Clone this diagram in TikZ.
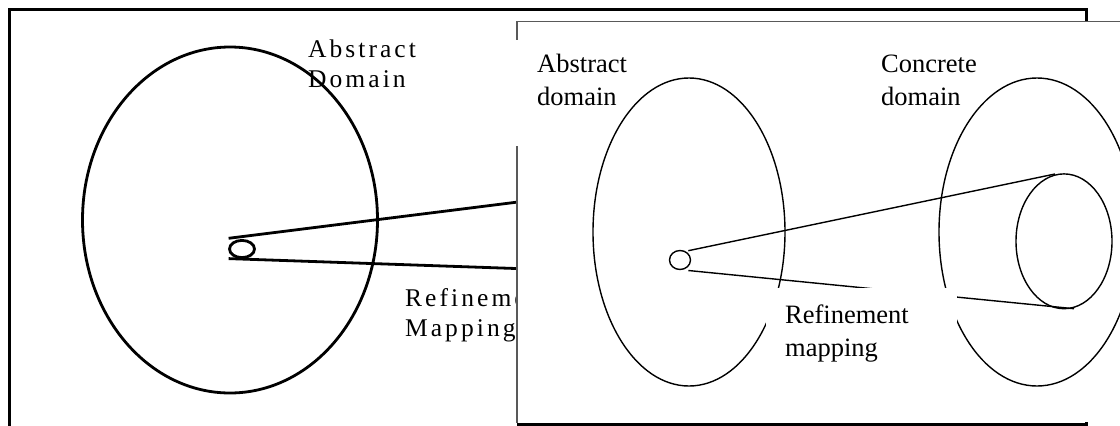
\documentclass[tikz,border=0pt]{standalone}
\usepackage{fontspec}
\setmainfont{Liberation Serif}
\newfontfamily\spacedfont[LetterSpace=12]{Liberation Serif}
\begin{document}
\begin{tikzpicture}[x=1pt,y=-1pt,
  backline/.style={line width=2.8pt,black},
  frontline/.style={line width=1.4pt,black},
  border/.style={line width=1.2pt,black!65},
  whitebox/.style={fill=white,draw=none},
  backtext/.style={anchor=base west,inner sep=0pt,font=\spacedfont\fontsize{25.5}{30}\selectfont},
  fronttext/.style={anchor=base west,inner sep=0pt,font=\fontsize{26.5}{33}\selectfont}]
\useasboundingbox (0,0) rectangle (1120,426);
\clip (0,0) rectangle (1120,426);
% ---------- back picture ----------
\coordinate (bf1) at (9.5,440);
\coordinate (bf2) at (9.5,9.7);
\coordinate (bf3) at (1086.5,9.7);
\coordinate (bf4) at (1086.5,440);
\draw[backline] (bf1) -- (bf2) -- (bf3) -- (bf4);
\draw[backline] (230,220) ellipse [x radius=147.5, y radius=173];
\draw[backline] (242,249) ellipse [x radius=12.5, y radius=8.6];
\coordinate (bu1) at (228.6,238.3);
\coordinate (bu2) at (530,200.5);
\coordinate (bl1) at (228.6,258.6);
\coordinate (bl2) at (530,269);
\draw[backline] (bu1) -- (bu2);
\draw[backline] (bl1) -- (bl2);
\node[backtext] (bt1) at (308,57) {A\kern3pt bstract};
\node[backtext] (bt2) at (308,87.5) {Domain};
\node[backtext] (bt3) at (405,306) {Refinement};
\node[backtext] (bt4) at (405,336) {M\kern3pt apping};
% ---------- front picture ----------
\fill[white] (517,21.5) rectangle (1125,422);
\coordinate (fr1) at (517,21.5);
\coordinate (fr2) at (1125,21.5);
\coordinate (fr3) at (517,423);
\draw[border] (fr2) -- (fr1) -- (fr3);
\coordinate (fb1) at (517,424.6);
\coordinate (fb2) at (1087.9,424.6);
\draw[line width=3pt] (fb1) -- (fb2);
\path[whitebox] (514,40) rectangle (632,146);
\draw[frontline] (689,232) ellipse [x radius=96, y radius=154];
\draw[frontline] (1037,232) ellipse [x radius=98, y radius=154];
\draw[frontline] (1064,241.3) ellipse [x radius=48, y radius=67.4];
\draw[frontline] (680,260) ellipse [x radius=10.5, y radius=9.5];
\coordinate (fu1) at (688.3,250.7);
\coordinate (fu2) at (1055,174);
\coordinate (fl1) at (688.3,270.5);
\coordinate (fl2) at (1074,308.7);
\draw[frontline] (fu1) -- (fu2);
\draw[frontline] (fl1) -- (fl2);
\path[whitebox] (766,288) rectangle (956.5,370);
\node[fronttext] (ft1) at (537,72) {Abstract};
\node[fronttext] (ft2) at (537,105) {domain};
\node[fronttext] (ft3) at (881,72) {Concrete};
\node[fronttext] (ft4) at (881,105) {domain};
\node[fronttext] (ft5) at (785,323) {Refinement};
\node[fronttext] (ft6) at (785,356) {mapping};
\end{tikzpicture}
\end{document}
